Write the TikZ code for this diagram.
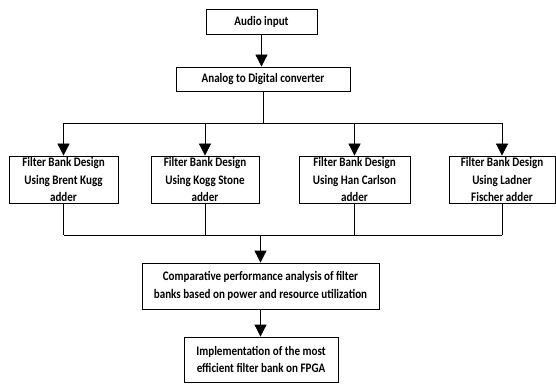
\documentclass[tikz,border=0pt]{standalone}
\usepackage{fontspec}
\setmainfont{Carlito}[FakeStretch=0.85]
\usetikzlibrary{arrows.meta}
\begin{document}
\begin{tikzpicture}[x=1pt,y=1pt,
  box/.style={draw=black, line width=0.8pt, fill=white, inner sep=0pt, align=center,
    font=\bfseries\fontsize{13}{17.6}\selectfont},
  link/.style={draw=black, line width=0.8pt},
  arr/.style={link, -{Triangle[width=12pt,length=12pt]}}]
\useasboundingbox (0,0) rectangle (556,383);
% top chain
\node[box, minimum width=111pt, minimum height=25pt] (audio) at (261.5,361.5) {Audio input};
\node[box, minimum width=174pt, minimum height=24pt] (adc) at (263,304) {Analog to Digital converter};
% four filter bank designs
\node[box, minimum width=109pt, minimum height=47pt] (b1) at (63.5,203.5) {Filter Bank Design\\Using Brent Kugg\\adder};
\node[box, minimum width=108pt, minimum height=47pt] (b2) at (205,203.5) {Filter Bank Design\\Using Kogg Stone\\adder};
\node[box, minimum width=111pt, minimum height=47pt] (b3) at (354.5,203.5) {Filter Bank Design\\Using Han Carlson\\adder};
\node[box, minimum width=106pt, minimum height=47pt] (b4) at (502,203.5) {Filter Bank Design\\Using Ladner\\Fischer adder};
% analysis and implementation
\node[box, minimum width=237pt, minimum height=46pt] (comp) at (260.5,97) {Comparative performance analysis of filter\\banks based on power and resource utilization};
\node[box, minimum width=154pt, minimum height=45pt] (fpga) at (261,23.5) {Implementation of the most\\efficient filter bank on FPGA};
% bus levels
\coordinate (bus) at (0,260);
\coordinate (bot) at (0,148);
% connectors
\draw[arr] (audio.south) -- (audio.south |- adc.north);
\draw[link] (adc.south) -- (adc.south |- bus);
\draw[link] (b1.north |- bus) -- (b4.north |- bus);
\foreach \b in {b1,b2,b3,b4} {
  \draw[arr] (\b.north |- bus) -- (\b.north);
  \draw[link] (\b.south) -- (\b.south |- bot);
}
\draw[link] (b1.south |- bot) -- (b4.south |- bot);
\draw[arr] (comp.north |- bot) -- (comp.north);
\draw[arr] (comp.south) -- (comp.south |- fpga.north);
\end{tikzpicture}
\end{document}
